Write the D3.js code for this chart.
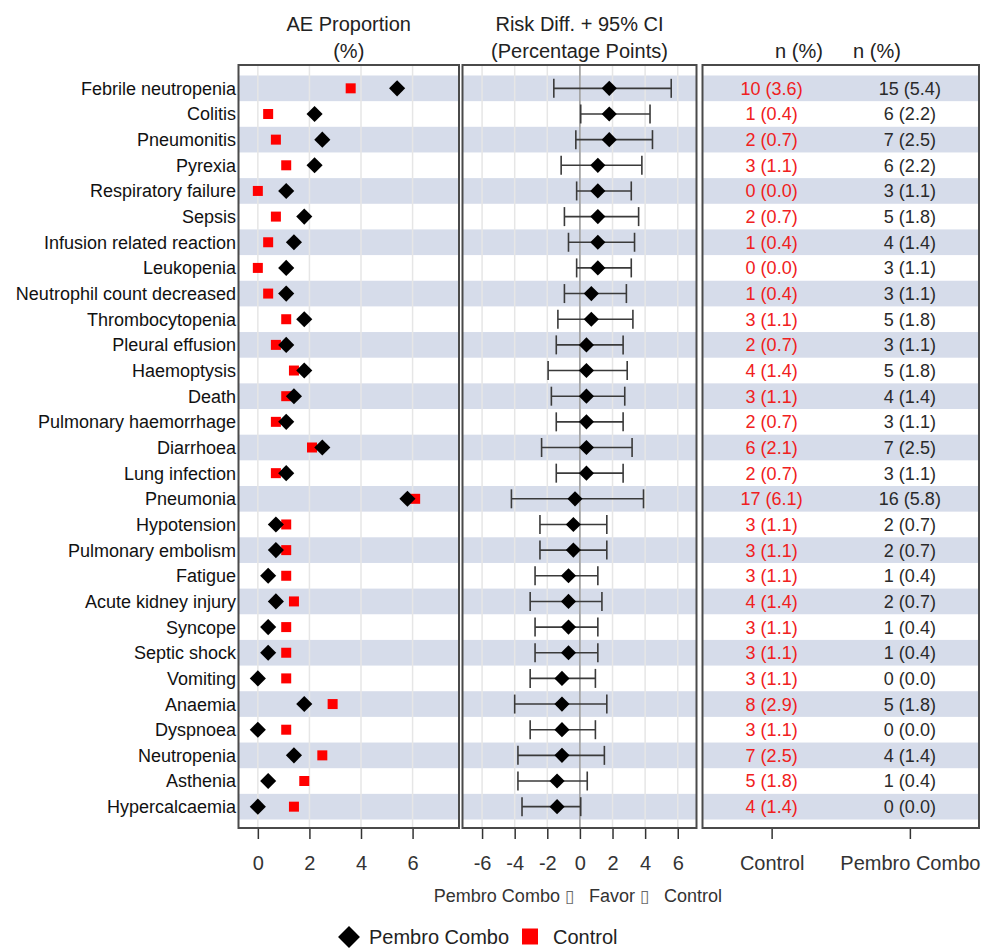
<!DOCTYPE html>
<html>
<head>
<meta charset="utf-8">
<script src="https://cdn.jsdelivr.net/npm/d3@7"></script>
<style>
  html, body { margin: 0; padding: 0; background: #fff; }
  svg { display: block; font-family: "Liberation Sans", Arial, sans-serif; }
</style>
</head>
<body>
<svg id="chart" width="983" height="951"></svg>
<script>
// Adverse events, sorted by risk difference (Pembro Combo minus Control)
const categories = [
  "Febrile neutropenia", "Colitis", "Pneumonitis", "Pyrexia", "Respiratory failure",
  "Sepsis", "Infusion related reaction", "Leukopenia", "Neutrophil count decreased",
  "Thrombocytopenia", "Pleural effusion", "Haemoptysis", "Death", "Pulmonary haemorrhage",
  "Diarrhoea", "Lung infection", "Pneumonia", "Hypotension", "Pulmonary embolism",
  "Fatigue", "Acute kidney injury", "Syncope", "Septic shock", "Vomiting", "Anaemia",
  "Dyspnoea", "Neutropenia", "Asthenia", "Hypercalcaemia"
];

// Event counts and proportions (%) per arm
const controlN   = [10, 1, 2, 3, 0, 2, 1, 0, 1, 3, 2, 4, 3, 2, 6, 2, 17, 3, 3, 3, 4, 3, 3, 3, 8, 3, 7, 5, 4];
const controlPct = [3.6, 0.4, 0.7, 1.1, 0.0, 0.7, 0.4, 0.0, 0.4, 1.1, 0.7, 1.4, 1.1, 0.7, 2.1, 0.7, 6.1, 1.1, 1.1, 1.1, 1.4, 1.1, 1.1, 1.1, 2.9, 1.1, 2.5, 1.8, 1.4];
const pembroN    = [15, 6, 7, 6, 3, 5, 4, 3, 3, 5, 3, 5, 4, 3, 7, 3, 16, 2, 2, 1, 2, 1, 1, 0, 5, 0, 4, 1, 0];
const pembroPct  = [5.4, 2.2, 2.5, 2.2, 1.1, 1.8, 1.4, 1.1, 1.1, 1.8, 1.1, 1.8, 1.4, 1.1, 2.5, 1.1, 5.8, 0.7, 0.7, 0.4, 0.7, 0.4, 0.4, 0.0, 1.8, 0.0, 1.4, 0.4, 0.0];

// Risk difference (percentage points) with 95% confidence limits
const riskDiff = [1.8, 1.8, 1.8, 1.1, 1.1, 1.1, 1.1, 1.1, 0.7, 0.7, 0.4, 0.4, 0.4, 0.4, 0.4, 0.4, -0.3, -0.4, -0.4, -0.7, -0.7, -0.7, -0.7, -1.1, -1.1, -1.1, -1.1, -1.4, -1.4];
const ciLower  = [-1.6, 0.05, -0.25, -1.15, -0.2, -0.95, -0.7, -0.2, -0.95, -1.35, -1.45, -1.95, -1.75, -1.45, -2.35, -1.45, -4.2, -2.45, -2.45, -2.75, -3.05, -2.75, -2.75, -3.05, -4.0, -3.05, -3.8, -3.8, -3.55];
const ciUpper  = [5.6, 4.3, 4.45, 3.8, 3.15, 3.6, 3.35, 3.15, 2.85, 3.25, 2.65, 2.9, 2.75, 2.65, 3.2, 2.65, 3.9, 1.65, 1.65, 1.1, 1.35, 1.1, 1.1, 0.95, 1.65, 0.95, 1.5, 0.45, 0.05];

// Axis ticks and column labels
const aeTicks = [0, 2, 4, 6];
const rdTicks = [-6, -4, -2, 0, 2, 4, 6];
const countColumns = ["Control", "Pembro Combo"];
const armNames = ["Pembro Combo", "Control"];
const favorNote = ["Pembro Combo ", "\u25AF", "   Favor ", "\u25AF", "   Control"];

const rows = categories.map((c, i) => ({
  name: c, cN: controlN[i], cP: controlPct[i], pN: pembroN[i], pP: pembroPct[i],
  rd: riskDiff[i], lo: ciLower[i], hi: ciUpper[i]
}));

const svg = d3.select("#chart");
const plotTop = 65, plotBottom = 828;
const panels = [
  { x0: 238.5, x1: 459 },
  { x0: 462.5, x1: 696.5 },
  { x0: 702.5, x1: 979 }
];

const y = d3.scaleBand().domain(categories).range([75.5, 819.5]).paddingInner(0);
const xAE = d3.scaleLinear().domain([-0.75, 7.8]).range([panels[0].x0, panels[0].x1]);
const xRD = d3.scaleLinear().domain([-7.2, 7.15]).range([panels[1].x0, panels[1].x1]);
const xCol = d3.scalePoint().domain(countColumns).range([panels[2].x0, panels[2].x1]).padding(0.5);

const bandColor = "#d6dcea";
const red = "#ff0000";

// Alternating row bands in every panel
panels.forEach(p => {
  svg.append("g").selectAll("rect")
    .data(rows.filter((d, i) => i % 2 === 0))
    .join("rect")
    .attr("x", p.x0).attr("width", p.x1 - p.x0)
    .attr("y", d => y(d.name)).attr("height", y.bandwidth())
    .attr("fill", bandColor);
});

// Vertical grid lines
function grid(scale, ticks) {
  svg.append("g").selectAll("line").data(ticks).join("line")
    .attr("x1", d => scale(d)).attr("x2", d => scale(d))
    .attr("y1", plotTop).attr("y2", plotBottom)
    .attr("stroke", "#e6e6e6").attr("stroke-width", 1.5);
}
grid(xAE, aeTicks);
grid(xRD, rdTicks);

// Zero reference line for the risk difference
svg.append("line")
  .attr("x1", xRD(0)).attr("x2", xRD(0)).attr("y1", plotTop).attr("y2", plotBottom)
  .attr("stroke", "#9a9a9a").attr("stroke-width", 1.5);

const cy = d => y(d.name) + y.bandwidth() / 2;
const diamond = area => d3.symbol(d3.symbolSquare, area)();
const square = area => d3.symbol(d3.symbolSquare, area)();

// Panel 1: AE proportions
svg.append("g").selectAll("path").data(rows).join("path")
  .attr("d", square(100))
  .attr("transform", d => `translate(${xAE(d.cP)},${cy(d)})`)
  .attr("fill", red);
svg.append("g").selectAll("path").data(rows).join("path")
  .attr("d", diamond(130))
  .attr("transform", d => `translate(${xAE(d.pP)},${cy(d)}) rotate(45)`)
  .attr("fill", "#000");

// Panel 2: risk difference and CI
const eb = svg.append("g").attr("stroke", "#3a3a3a").attr("stroke-width", 1.6).attr("fill", "none");
eb.selectAll("line.h").data(rows).join("line").attr("class", "h")
  .attr("x1", d => xRD(d.lo)).attr("x2", d => xRD(d.hi))
  .attr("y1", cy).attr("y2", cy);
eb.selectAll("line.l").data(rows).join("line").attr("class", "l")
  .attr("x1", d => xRD(d.lo)).attr("x2", d => xRD(d.lo))
  .attr("y1", d => cy(d) - 9.5).attr("y2", d => cy(d) + 9.5);
eb.selectAll("line.r").data(rows).join("line").attr("class", "r")
  .attr("x1", d => xRD(d.hi)).attr("x2", d => xRD(d.hi))
  .attr("y1", d => cy(d) - 9.5).attr("y2", d => cy(d) + 9.5);
svg.append("g").selectAll("path").data(rows).join("path")
  .attr("d", diamond(115))
  .attr("transform", d => `translate(${xRD(d.rd)},${cy(d)}) rotate(45)`)
  .attr("fill", "#000");

// Panel 3: counts n (%)
const fmt = (n, p) => `${n} (${p.toFixed(1)})`;
svg.append("g").selectAll("text").data(rows).join("text")
  .attr("x", xCol("Control")).attr("y", cy).attr("dy", "0.36em")
  .attr("text-anchor", "middle").attr("font-size", 18).attr("fill", "#f02020")
  .text(d => fmt(d.cN, d.cP));
svg.append("g").selectAll("text").data(rows).join("text")
  .attr("x", xCol("Pembro Combo")).attr("y", cy).attr("dy", "0.36em")
  .attr("text-anchor", "middle").attr("font-size", 18).attr("fill", "#2a2a2a")
  .text(d => fmt(d.pN, d.pP));

// Category labels
svg.append("g").selectAll("text").data(rows).join("text")
  .attr("x", 236).attr("y", cy).attr("dy", "0.36em")
  .attr("text-anchor", "end").attr("font-size", 18).attr("fill", "#111")
  .text(d => d.name);

// Panel borders
panels.forEach(p => {
  svg.append("rect")
    .attr("x", p.x0).attr("y", plotTop).attr("width", p.x1 - p.x0).attr("height", plotBottom - plotTop)
    .attr("fill", "none").attr("stroke", "#4a4a4a").attr("stroke-width", 2);
});

// Bottom axes
function axis(gen) {
  const g = svg.append("g").attr("transform", `translate(0,${plotBottom + 1})`).call(gen);
  g.select(".domain").remove();
  g.selectAll(".tick line").attr("stroke", "#333").attr("stroke-width", 1.5);
  g.selectAll(".tick text").attr("font-size", 20).attr("fill", "#333")
    .attr("font-family", "Liberation Sans, Arial, sans-serif");
  return g;
}
axis(d3.axisBottom(xAE).tickValues(aeTicks).tickSize(10).tickPadding(17).tickFormat(d3.format("d")));
axis(d3.axisBottom(xRD).tickValues(rdTicks).tickSize(10).tickPadding(17).tickFormat(d => d < 0 ? "-" + Math.abs(d) : d));
axis(d3.axisBottom(xCol).tickSize(10).tickPadding(17));

// Column headers
const hdr = svg.append("g").attr("font-size", 20).attr("fill", "#222").attr("text-anchor", "middle");
const c1 = (panels[0].x0 + panels[0].x1) / 2, c2 = (panels[1].x0 + panels[1].x1) / 2;
hdr.append("text").attr("x", c1).attr("y", 31).text("AE Proportion");
hdr.append("text").attr("x", c1).attr("y", 58).text("(%)");
hdr.append("text").attr("x", c2).attr("y", 31).text("Risk Diff. + 95% CI");
hdr.append("text").attr("x", c2).attr("y", 58).text("(Percentage Points)");
hdr.append("text").attr("x", 799).attr("y", 58).text("n (%)");
hdr.append("text").attr("x", 877).attr("y", 58).text("n (%)");

// Direction note under the risk difference axis
const note = svg.append("text").attr("x", xRD(0) - 2).attr("y", 902)
  .attr("text-anchor", "middle").attr("font-size", 18).attr("fill", "#333")
  .style("white-space", "pre");
note.selectAll("tspan").data(favorNote).join("tspan")
  .attr("font-size", (d, i) => i % 2 === 1 ? 17 : 18)
  .attr("fill", (d, i) => i % 2 === 1 ? "#666" : "#333")
  .text(d => d);

// Legend
const lg = svg.append("g").attr("font-size", 20).attr("fill", "#222");
lg.append("path").attr("d", diamond(240)).attr("transform", "translate(349,937) rotate(45)").attr("fill", "#000");
lg.append("text").attr("x", 369).attr("y", 944).text(armNames[0]);
lg.append("path").attr("d", square(256)).attr("transform", "translate(530,936.5)").attr("fill", red);
lg.append("text").attr("x", 553).attr("y", 944).text(armNames[1]);
</script>
</body>
</html>
